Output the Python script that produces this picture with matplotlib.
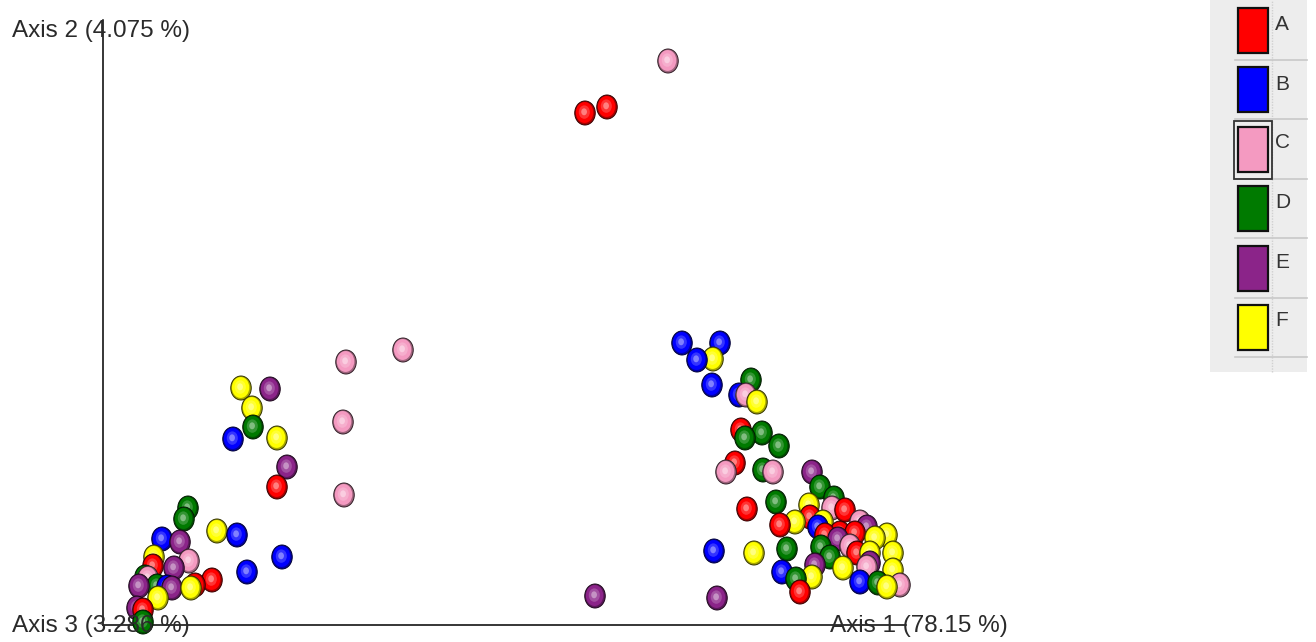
import matplotlib
matplotlib.use("Agg")
import matplotlib.pyplot as plt
from matplotlib.patches import Ellipse, Rectangle
import matplotlib.colors as mcolors

# ---- data (Axis 1 / Axis 2 screen-projected scores, in plot units) ----
groups = ["A", "B", "C", "D", "E", "F"]
colors = ["#FF0000", "#0000FF", "#F49AC1", "#007A00", "#8B2489", "#FFFF00"]

A_x = [482, 504, 174, 109, 92, 50, 40, 638, 632, 644, 677, 697, 707, 722, 737, 742, 752, 754]
A_y = [512, 518, 138, 45, 40, 59, 15, 195, 162, 116, 100, 33, 108, 90, 92, 115, 92, 72]
B_x = [130, 134, 179, 144, 59, 64, 579, 617, 594, 609, 636, 611, 679, 715, 757]
B_y = [186, 90, 68, 53, 86, 38, 282, 282, 265, 240, 230, 74, 53, 98, 43]
C_x = [565, 243, 300, 240, 241, 86, 45, 643, 623, 670, 729, 757, 747, 764, 797]
C_y = [564, 263, 275, 203, 130, 64, 47, 230, 153, 153, 117, 103, 79, 58, 40]
D_x = [150, 85, 81, 54, 42, 40, 648, 642, 659, 676, 660, 673, 684, 693, 717, 731, 718, 727, 775]
D_y = [198, 117, 106, 39, 48, 3, 245, 187, 192, 179, 155, 123, 76, 46, 138, 127, 78, 68, 42]
E_x = [167, 184, 77, 71, 36, 69, 34, 614, 492, 712, 709, 735, 764, 767]
E_y = [236, 158, 83, 57, 39, 37, 17, 27, 29, 60, 153, 86, 98, 62]
F_x = [138, 149, 174, 114, 51, 88, 55, 610, 654, 651, 692, 709, 706, 720, 740, 767, 772, 784, 790, 790, 784]
F_y = [237, 217, 187, 94, 68, 37, 27, 266, 223, 72, 103, 48, 120, 103, 57, 72, 87, 90, 72, 55, 38]

series_x = [A_x, B_x, C_x, D_x, E_x, F_x]
series_y = [A_y, B_y, C_y, D_y, E_y, F_y]

axis_labels = ["Axis 1 (78.15 %)", "Axis 2 (4.075 %)", "Axis 3 (3.286 %)"]

# ---- figure ----
W, H = 1316, 642
fig = plt.figure(figsize=(W / 100, H / 100), dpi=100)
ax = fig.add_axes([0, 0, 1, 1])
ax.set_xlim(-103, W - 103)
ax.set_ylim(-17, H - 17)
ax.axis("off")
fig.patch.set_facecolor("white")

FONT = ["Liberation Sans", "DejaVu Sans"]

# axes lines
ax.plot([0, 0], [0, 605], color="black", lw=1.1, zorder=1)
ax.plot([0, 803], [0, 0], color="black", lw=1.1, zorder=1)


def mix(c, t, target=(1, 1, 1)):
    r = mcolors.to_rgb(c)
    return tuple(r[i] * (1 - t) + target[i] * t for i in range(3))


pts = []
for gi, (xs, ys) in enumerate(zip(series_x, series_y)):
    for x, y in zip(xs, ys):
        pts.append((y, x, gi))
# draw points higher on screen first so lower ones sit in front
pts.sort(key=lambda p: -p[0])

w, h = 20.5, 24
z = 2
for y, x, gi in pts:
    c = colors[gi]
    layers = [
        (1.00, 1.00, mix(c, 0.35, (0, 0, 0)), 0.0, 0.0),
        (0.85, 0.87, c, -0.4, 0.5),
        (0.54, 0.56, mix(c, 0.2), -0.7, 0.9),
        (0.28, 0.29, mix(c, 0.5), -0.9, 1.2),
    ]
    for k, (sx, sy, col, dx, dy) in enumerate(layers):
        e = Ellipse((x + dx, y + dy), w * sx, h * sy, facecolor=col,
                    edgecolor=(mix(c, 0.8, (0, 0, 0)) if k == 0 else "none"),
                    lw=0.7 if k == 0 else 0, zorder=z)
        ax.add_patch(e)
        z += 0.001

# axis labels
lab_kw = dict(fontsize=17.5, family=FONT, color="#2A2A2A", va="center",
              ha="left", transform=None, zorder=10)
fig.text(12, H - 31, axis_labels[1], **lab_kw)
fig.text(12, H - 626, axis_labels[2], **lab_kw)
fig.text(830, H - 626, axis_labels[0], **lab_kw)

# ---- legend panel ----
def px(xp, yp):
    return xp - 103, (H - yp) - 17

lx0, ly0 = px(1210, 372)
ax.add_patch(Rectangle((lx0, ly0), 1307 - 1210, 372, facecolor="#EDEDED",
                       edgecolor="none", zorder=20))
# vertical dotted divider
vx, vy0 = px(1272, 372)
ax.plot([vx, vx], [vy0, vy0 + 372], color="#D0D0D0", lw=1, ls=(0, (1, 1)), zorder=21)

sw_top = [8, 67, 127, 186, 246, 305]
lab_y = [25, 84, 143, 202, 262, 321]
for i, g in enumerate(groups):
    top = sw_top[i]
    x0, y0 = px(1238, top + 45)
    ax.add_patch(Rectangle((x0, y0), 30, 45, facecolor=colors[i],
                           edgecolor="#111111", lw=1.6, zorder=22))
    if g == "C":
        bx, by = px(1234, top + 52)
        ax.add_patch(Rectangle((bx, by), 38, 58, facecolor="none",
                               edgecolor="#333333", lw=1.3, zorder=23))
    sx, sy = px(1235, top + 52)
    ax.plot([sx, sx + 72], [sy, sy], color="#C8C8C8", lw=1.2, zorder=21)
    fig.text(1275, H - lab_y[i], g, fontsize=15, family=FONT,
             color="#333333", va="center", ha="left", transform=None, zorder=24)

fig.savefig("out.png", dpi=100, facecolor="white")
